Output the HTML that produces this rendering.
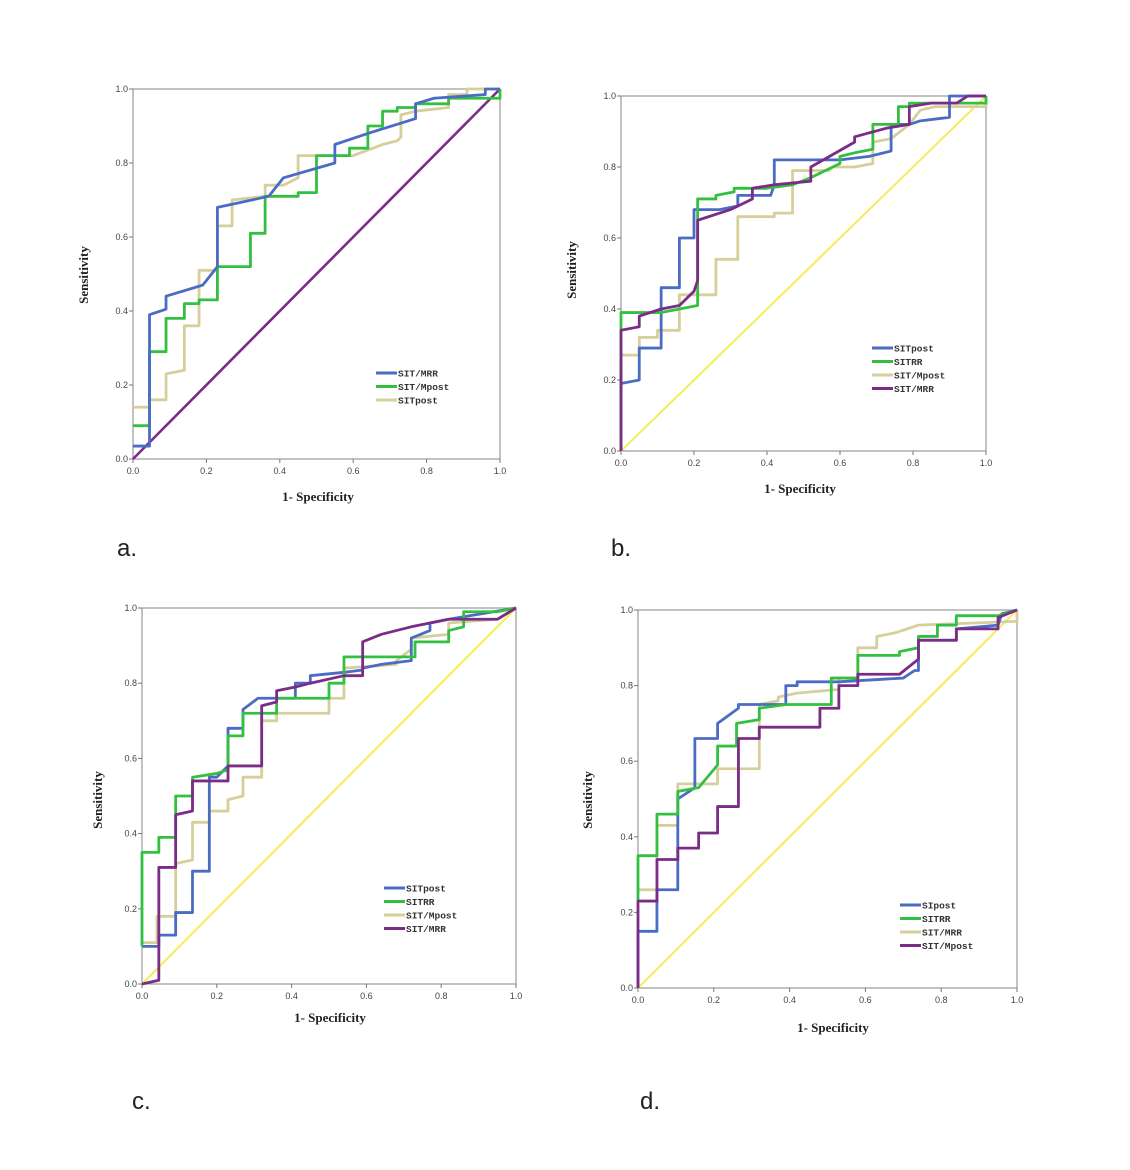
<!DOCTYPE html>
<html><head><meta charset="utf-8"><style>
body{margin:0;background:#fff;width:1130px;height:1170px;overflow:hidden}
svg{position:absolute;left:0;top:0}
.tk{font-family:"Liberation Sans",sans-serif;font-size:9px;fill:#444}
.ax{font-family:"Liberation Serif",serif;font-size:13px;font-weight:bold;fill:#222}
.lg{font-family:"Liberation Mono",monospace;font-size:9.5px;font-weight:bold;fill:#333}
.pl{font-family:"Liberation Sans",sans-serif;font-size:24px;fill:#222}
</style></head><body>
<svg id="c" width="1130" height="1170"></svg>
<script>
// Panel a
const aBlue=[[0,.035],[.045,.035],[.045,.39],[.09,.405],[.09,.44],[.19,.47],[.23,.52],[.23,.68],[.37,.71],[.41,.76],[.55,.80],[.55,.85],[.64,.88],[.77,.92],[.77,.96],[.82,.975],[.96,.985],[.96,1],[1,1]];
const aGreen=[[0,.09],[.045,.09],[.045,.29],[.09,.29],[.09,.38],[.14,.38],[.14,.42],[.18,.42],[.18,.43],[.23,.43],[.23,.52],[.32,.52],[.32,.61],[.36,.61],[.36,.71],[.45,.71],[.45,.72],[.50,.72],[.50,.82],[.59,.82],[.59,.84],[.64,.84],[.64,.90],[.68,.90],[.68,.94],[.72,.94],[.72,.95],[.77,.95],[.77,.96],[.86,.96],[.86,.975],[1,.975],[1,1]];
const aTan=[[0,.14],[.045,.14],[.045,.16],[.09,.16],[.09,.23],[.14,.24],[.14,.36],[.18,.36],[.18,.51],[.23,.51],[.23,.63],[.27,.63],[.27,.70],[.36,.71],[.36,.74],[.41,.74],[.45,.76],[.45,.82],[.60,.82],[.68,.85],[.72,.86],[.73,.87],[.73,.93],[.77,.94],[.86,.95],[.86,.985],[.91,.985],[.91,1],[1,1]];
const aRef=[[0,0],[1,1]];
// Panel b
const bBlue=[[0,0],[0,.19],[.05,.20],[.05,.29],[.11,.29],[.11,.46],[.16,.46],[.16,.60],[.20,.60],[.20,.68],[.27,.68],[.32,.69],[.32,.72],[.41,.72],[.42,.75],[.42,.82],[.60,.82],[.68,.83],[.74,.845],[.74,.92],[.79,.92],[.82,.93],[.90,.94],[.90,1],[1,1]];
const bGreen=[[0,0],[0,.39],[.11,.39],[.16,.40],[.21,.41],[.21,.71],[.26,.71],[.26,.72],[.31,.73],[.31,.74],[.40,.74],[.47,.75],[.52,.77],[.60,.81],[.60,.83],[.64,.84],[.69,.85],[.69,.92],[.76,.92],[.76,.97],[.79,.97],[.79,.98],[1,.98],[1,1]];
const bTan=[[0,0],[0,.27],[.05,.27],[.05,.32],[.10,.32],[.10,.34],[.16,.34],[.16,.44],[.26,.44],[.26,.54],[.32,.54],[.32,.66],[.42,.66],[.42,.67],[.47,.67],[.47,.79],[.57,.79],[.58,.80],[.64,.80],[.69,.81],[.69,.87],[.74,.88],[.79,.92],[.82,.96],[.86,.97],[1,.97],[1,1]];
const bPurple=[[0,0],[0,.34],[.05,.35],[.05,.38],[.11,.40],[.16,.41],[.20,.45],[.21,.48],[.21,.65],[.30,.68],[.36,.71],[.36,.74],[.42,.75],[.52,.76],[.52,.77],[.52,.80],[.64,.87],[.64,.885],[.73,.91],[.79,.92],[.79,.97],[.85,.98],[.92,.98],[.95,1],[1,1]];
const bRef=[[0,0],[1,1]];
// Panel c
const cBlue=[[0,.10],[.045,.10],[.045,.13],[.09,.13],[.09,.19],[.135,.19],[.135,.30],[.18,.30],[.18,.55],[.20,.55],[.23,.58],[.23,.68],[.27,.68],[.27,.73],[.31,.76],[.41,.76],[.41,.80],[.45,.80],[.45,.82],[.55,.83],[.59,.835],[.59,.84],[.64,.85],[.72,.86],[.72,.92],[.77,.94],[.77,.96],[.82,.97],[1,1]];
const cGreen=[[0,.10],[0,.35],[.045,.35],[.045,.39],[.09,.39],[.09,.50],[.135,.50],[.135,.55],[.20,.56],[.23,.57],[.23,.66],[.27,.66],[.27,.72],[.36,.72],[.36,.76],[.50,.76],[.50,.80],[.54,.80],[.54,.87],[.68,.87],[.73,.87],[.73,.91],[.82,.91],[.82,.94],[.86,.95],[.86,.99],[.95,.99],[1,1]];
const cTan=[[0,.11],[.04,.11],[.04,.18],[.09,.18],[.09,.32],[.135,.33],[.135,.43],[.18,.43],[.18,.46],[.23,.46],[.23,.49],[.27,.50],[.27,.55],[.32,.55],[.32,.70],[.36,.70],[.36,.72],[.50,.72],[.50,.76],[.54,.76],[.54,.84],[.68,.85],[.68,.86],[.72,.89],[.72,.92],[.82,.93],[.82,.96],[.95,.97],[1,1]];
const cPurple=[[0,0],[.045,.01],[.045,.31],[.09,.31],[.09,.45],[.135,.46],[.135,.54],[.23,.54],[.23,.58],[.32,.58],[.32,.74],[.36,.75],[.36,.78],[.41,.79],[.45,.80],[.54,.82],[.59,.82],[.59,.91],[.64,.93],[.68,.94],[.72,.95],[.77,.96],[.82,.97],[.95,.97],[1,1]];
const cRef=[[0,0],[1,1]];
// Panel d
const dBlue=[[0,0],[0,.15],[.05,.15],[.05,.26],[.105,.26],[.105,.50],[.15,.53],[.15,.66],[.21,.66],[.21,.70],[.265,.74],[.265,.75],[.39,.75],[.39,.80],[.42,.80],[.42,.81],[.53,.81],[.70,.82],[.73,.84],[.74,.84],[.74,.92],[.84,.92],[.84,.95],[.95,.96],[.96,.99],[1,1]];
const dGreen=[[0,.23],[0,.35],[.05,.35],[.05,.46],[.105,.46],[.105,.52],[.16,.53],[.21,.59],[.21,.64],[.26,.64],[.26,.70],[.32,.71],[.32,.74],[.39,.75],[.51,.75],[.51,.82],[.58,.82],[.58,.88],[.69,.88],[.69,.89],[.74,.90],[.74,.93],[.79,.93],[.79,.96],[.84,.96],[.84,.985],[.95,.985],[1,1]];
const dTan=[[0,.26],[.05,.26],[.05,.43],[.105,.43],[.105,.54],[.21,.54],[.21,.58],[.32,.58],[.32,.75],[.37,.76],[.37,.77],[.42,.78],[.53,.79],[.53,.82],[.58,.82],[.58,.90],[.63,.90],[.63,.93],[.68,.94],[.74,.96],[1,.97],[1,1]];
const dPurple=[[0,0],[0,.23],[.05,.23],[.05,.34],[.105,.34],[.105,.37],[.16,.37],[.16,.41],[.21,.41],[.21,.48],[.265,.48],[.265,.66],[.32,.66],[.32,.69],[.48,.69],[.48,.74],[.53,.74],[.53,.80],[.58,.80],[.58,.83],[.69,.83],[.74,.87],[.74,.92],[.84,.92],[.84,.95],[.95,.95],[.95,.98],[1,1]];
const dRef=[[0,0],[1,1]];
const ticks=[0,.2,.4,.6,.8,1];
const tickLabels=["0.0","0.2","0.4","0.6","0.8","1.0"];

const BL="#4a6cc2",GR="#33c040",TN="#d6cf9c",PU="#7b2c87",YE="#f3ee55";
const NS="http://www.w3.org/2000/svg",svg=document.getElementById('c');
function mk(t,a,p){const e=document.createElementNS(NS,t);for(const k in a)e.setAttribute(k,a[k]);(p||svg).appendChild(e);return e;}
const panels=[
 {id:'a',x0:133,x1:500,y0:459,y1:89,series:[[aRef,PU,'reference-line',2.6],[aTan,TN,'sitpost-curve'],[aGreen,GR,'sit-mpost-curve'],[aBlue,BL,'sit-mrr-curve']],
  legend:[[BL,'SIT/MRR'],[GR,'SIT/Mpost'],[TN,'SITpost']],lx:376,ly:373,yl:[88,275],xl:[318,501],let:[117,556,'a.']},
 {id:'b',x0:621,x1:986,y0:451,y1:96,series:[[bRef,YE,'reference-line'],[bTan,TN,'sit-mpost-curve'],[bBlue,BL,'sitpost-curve'],[bGreen,GR,'sitrr-curve'],[bPurple,PU,'sit-mrr-curve']],
  legend:[[BL,'SITpost'],[GR,'SITRR'],[TN,'SIT/Mpost'],[PU,'SIT/MRR']],lx:872,ly:348,yl:[576,270],xl:[800,493],let:[611,556,'b.']},
 {id:'c',x0:142,x1:516,y0:984,y1:608,series:[[cRef,YE,'reference-line'],[cTan,TN,'sit-mpost-curve'],[cBlue,BL,'sitpost-curve'],[cGreen,GR,'sitrr-curve'],[cPurple,PU,'sit-mrr-curve']],
  legend:[[BL,'SITpost'],[GR,'SITRR'],[TN,'SIT/Mpost'],[PU,'SIT/MRR']],lx:384,ly:888,yl:[102,800],xl:[330,1022],let:[132,1109,'c.']},
 {id:'d',x0:638,x1:1017,y0:988,y1:610,series:[[dRef,YE,'reference-line'],[dTan,TN,'sit-mrr-curve'],[dBlue,BL,'sipost-curve'],[dGreen,GR,'sitrr-curve'],[dPurple,PU,'sit-mpost-curve']],
  legend:[[BL,'SIpost'],[GR,'SITRR'],[TN,'SIT/MRR'],[PU,'SIT/Mpost']],lx:900,ly:905,yl:[592,800],xl:[833,1032],let:[640,1109,'d.']}
];
panels.forEach(p=>{
 const g=mk('g',{});
 
 
 const sx=v=>p.x0+v*(p.x1-p.x0), sy=v=>p.y0+v*(p.y1-p.y0);
 const fr=mk('rect',{x:p.x0,y:p.y1,width:p.x1-p.x0,height:p.y0-p.y1,fill:'none',stroke:'#9a9a9a','stroke-width':1.2},g);
 
 
 ticks.forEach((t,i)=>{
  mk('line',{x1:sx(t),x2:sx(t),y1:p.y0,y2:p.y0+4,stroke:'#777'},g);
  mk('line',{x1:p.x0-4,x2:p.x0,y1:sy(t),y2:sy(t),stroke:'#777'},g);
  const tx=mk('text',{x:sx(t),y:p.y0+15,'text-anchor':'middle',class:'tk'},g);tx.textContent=tickLabels[i];
  
  
  const ty=mk('text',{x:p.x0-5,y:sy(t)+3,'text-anchor':'end',class:'tk'},g);ty.textContent=tickLabels[i];
  
  
 });
 p.series.forEach(s=>{
  const w=s[3]||(s[2]==='reference-line'?2:2.8);
  const pl=mk('polyline',{points:s[0].map(q=>sx(q[0])+','+sy(q[1])).join(' '),fill:'none',stroke:s[1],'stroke-width':w,'stroke-linejoin':'round'},g);
  
  
 });
 p.legend.forEach((l,i)=>{
  const y=p.ly+i*13.5;
  mk('line',{x1:p.lx,x2:p.lx+21,y1:y,y2:y,stroke:l[0],'stroke-width':3},g);
  const t=mk('text',{x:p.lx+22,y:y+3.5,class:'lg'},g);t.textContent=l[1];
  
  
 });
 const yt=mk('text',{x:p.yl[0],y:p.yl[1],transform:`rotate(-90 ${p.yl[0]} ${p.yl[1]})`,'text-anchor':'middle',class:'ax','font-size':12},g);yt.textContent='Sensitivity';
 
 
 const xt=mk('text',{x:p.xl[0],y:p.xl[1],'text-anchor':'middle',class:'ax'},g);xt.textContent='1- Specificity';
 
 
 const lt=mk('text',{x:p.let[0],y:p.let[1],class:'pl'},g);lt.textContent=p.let[2];
 
 
});
</script>
</body></html>
